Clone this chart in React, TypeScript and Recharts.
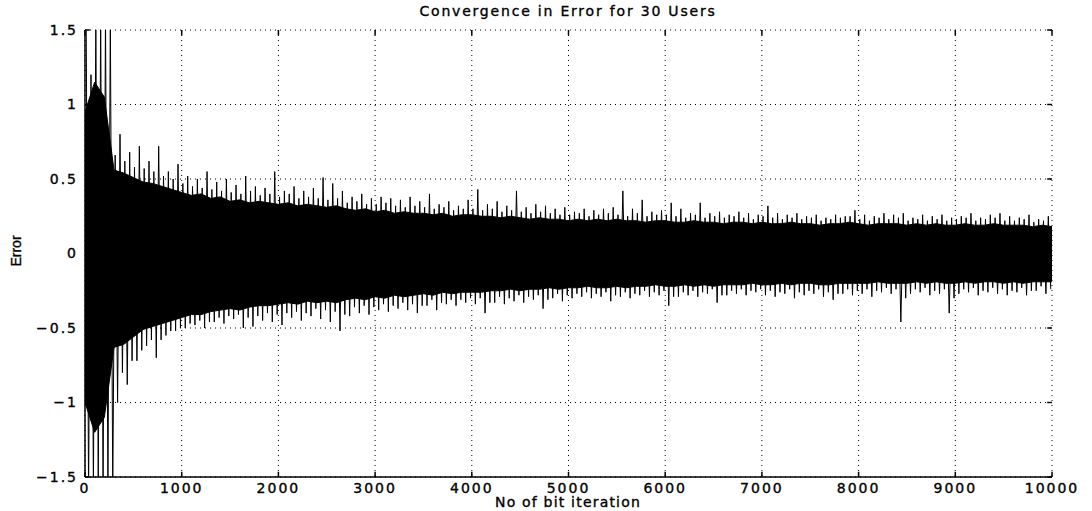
import React from 'react';
import { ComposedChart, Area, Line, XAxis, YAxis, CartesianGrid, ReferenceLine } from 'recharts';

// bin start (bit iteration), one every 100
const iterations = [
  0, 100, 200, 300, 400, 500, 600, 700, 800, 900,
  1000, 1100, 1200, 1300, 1400, 1500, 1600, 1700, 1800, 1900,
  2000, 2100, 2200, 2300, 2400, 2500, 2600, 2700, 2800, 2900,
  3000, 3100, 3200, 3300, 3400, 3500, 3600, 3700, 3800, 3900,
  4000, 4100, 4200, 4300, 4400, 4500, 4600, 4700, 4800, 4900,
  5000, 5100, 5200, 5300, 5400, 5500, 5600, 5700, 5800, 5900,
  6000, 6100, 6200, 6300, 6400, 6500, 6600, 6700, 6800, 6900,
  7000, 7100, 7200, 7300, 7400, 7500, 7600, 7700, 7800, 7900,
  8000, 8100, 8200, 8300, 8400, 8500, 8600, 8700, 8800, 8900,
  9000, 9100, 9200, 9300, 9400, 9500, 9600, 9700, 9800, 9900,
  10000,
];

// solid part of the error trace (upper / lower edge)
const coreTop = [
  0.95, 1.15, 1.05, 0.56, 0.54, 0.51, 0.48, 0.47, 0.45, 0.43,
  0.41, 0.39, 0.4, 0.37, 0.38, 0.35, 0.36, 0.34, 0.35, 0.34,
  0.33, 0.34, 0.32, 0.33, 0.32, 0.31, 0.32, 0.3, 0.29, 0.3,
  0.28, 0.29, 0.27, 0.28, 0.27, 0.27, 0.26, 0.27, 0.25, 0.26,
  0.26, 0.25, 0.25, 0.24, 0.25, 0.24, 0.23, 0.24, 0.23, 0.23,
  0.22, 0.23, 0.22, 0.23, 0.22, 0.23, 0.22, 0.22, 0.21, 0.22,
  0.22, 0.21, 0.21, 0.22, 0.21, 0.21, 0.2, 0.21, 0.21, 0.2,
  0.21, 0.2, 0.2, 0.21, 0.2, 0.2, 0.19, 0.2, 0.2, 0.21,
  0.2, 0.19, 0.2, 0.2, 0.2, 0.19, 0.2, 0.19, 0.2, 0.19,
  0.19, 0.2, 0.19, 0.19, 0.2, 0.19, 0.19, 0.19, 0.18, 0.19,
  0.18,
];
const coreBottom = [
  -1.0, -1.2, -1.1, -0.63, -0.61, -0.56, -0.51, -0.49, -0.47, -0.45,
  -0.43, -0.41, -0.41, -0.39, -0.38, -0.37, -0.38, -0.36, -0.35, -0.35,
  -0.34, -0.33, -0.34, -0.32, -0.33, -0.32, -0.33, -0.31, -0.3, -0.31,
  -0.29, -0.3, -0.28, -0.29, -0.28, -0.27, -0.28, -0.26, -0.27, -0.26,
  -0.26, -0.26, -0.25, -0.25, -0.24, -0.25, -0.24, -0.24, -0.23, -0.24,
  -0.23, -0.23, -0.22, -0.23, -0.23, -0.22, -0.23, -0.22, -0.22, -0.21,
  -0.22, -0.22, -0.21, -0.22, -0.21, -0.22, -0.21, -0.21, -0.21, -0.2,
  -0.21, -0.21, -0.2, -0.21, -0.2, -0.2, -0.21, -0.21, -0.2, -0.2,
  -0.2, -0.2, -0.19, -0.2, -0.2, -0.2, -0.19, -0.2, -0.19, -0.2,
  -0.2, -0.19, -0.2, -0.19, -0.19, -0.2, -0.19, -0.2, -0.19, -0.19,
  -0.19,
];

// highest / lowest spike inside each 100-iteration bin
const peakTop = [
  1.2, 1.6, 1.6, 0.8, 0.68, 0.72, 0.62, 0.72, 0.55, 0.6,
  0.52, 0.5, 0.55, 0.48, 0.5, 0.46, 0.52, 0.45, 0.44, 0.55,
  0.42, 0.45, 0.42, 0.44, 0.51, 0.47, 0.42, 0.38, 0.4, 0.37,
  0.38, 0.37, 0.36, 0.38, 0.35, 0.4, 0.33, 0.35, 0.32, 0.36,
  0.43, 0.33, 0.35, 0.32, 0.42, 0.31, 0.33, 0.32, 0.3, 0.31,
  0.28, 0.3, 0.29, 0.3, 0.31, 0.42, 0.3, 0.36, 0.28, 0.29,
  0.34, 0.3, 0.27, 0.34, 0.27, 0.28, 0.26, 0.28, 0.27, 0.26,
  0.32, 0.27, 0.26, 0.27, 0.25, 0.26, 0.24, 0.26, 0.25, 0.29,
  0.26, 0.25, 0.27, 0.26, 0.27, 0.24, 0.26, 0.25, 0.26, 0.24,
  0.25, 0.27, 0.24, 0.26, 0.27, 0.25, 0.24, 0.26, 0.23, 0.25,
];
const peakBottom = [
  -1.6, -1.6, -1.6, -1.0, -0.88, -0.72, -0.62, -0.7, -0.55, -0.52,
  -0.5, -0.48, -0.5, -0.46, -0.47, -0.44, -0.5, -0.49, -0.45, -0.46,
  -0.48, -0.43, -0.45, -0.42, -0.44, -0.46, -0.52, -0.42, -0.4, -0.41,
  -0.38, -0.39, -0.37, -0.38, -0.4, -0.35, -0.38, -0.34, -0.35, -0.33,
  -0.34, -0.4, -0.33, -0.34, -0.32, -0.33, -0.31, -0.37, -0.3, -0.32,
  -0.3, -0.29, -0.3, -0.29, -0.32, -0.29, -0.3, -0.28, -0.29, -0.28,
  -0.35, -0.29, -0.28, -0.29, -0.27, -0.33, -0.28, -0.27, -0.28, -0.26,
  -0.28, -0.29, -0.27, -0.3, -0.28, -0.27, -0.29, -0.31, -0.27, -0.28,
  -0.27, -0.29, -0.26, -0.27, -0.46, -0.27, -0.26, -0.28, -0.27, -0.4,
  -0.27, -0.26, -0.28, -0.26, -0.27, -0.28, -0.26, -0.28, -0.25, -0.27,
];

// second-tallest spike inside each bin
const subTop = [
  1.6, 1.6, 1.6, 0.66, 0.62, 0.58, 0.57, 0.55, 0.52, 0.5,
  0.47, 0.45, 0.44, 0.43, 0.42, 0.41, 0.4, 0.42, 0.39, 0.4,
  0.38, 0.4, 0.37, 0.38, 0.37, 0.36, 0.37, 0.34, 0.35, 0.33,
  0.33, 0.34, 0.32, 0.31, 0.32, 0.31, 0.3, 0.31, 0.29, 0.3,
  0.3, 0.29, 0.3, 0.28, 0.29, 0.28, 0.27, 0.28, 0.27, 0.26,
  0.26, 0.27, 0.25, 0.26, 0.27, 0.26, 0.25, 0.27, 0.25, 0.26,
  0.26, 0.25, 0.24, 0.26, 0.24, 0.25, 0.24, 0.25, 0.24, 0.23,
  0.25, 0.24, 0.23, 0.24, 0.23, 0.24, 0.22, 0.23, 0.24, 0.25,
  0.23, 0.22, 0.24, 0.23, 0.24, 0.22, 0.23, 0.22, 0.23, 0.22,
  0.23, 0.24, 0.22, 0.23, 0.24, 0.22, 0.22, 0.23, 0.21, 0.22,
];
const subBottom = [
  -1.6, -1.6, -1.6, -0.8, -0.72, -0.65, -0.58, -0.58, -0.52, -0.5,
  -0.47, -0.45, -0.46, -0.43, -0.42, -0.41, -0.43, -0.42, -0.4, -0.41,
  -0.4, -0.39, -0.4, -0.37, -0.38, -0.39, -0.41, -0.36, -0.35, -0.36,
  -0.34, -0.35, -0.33, -0.34, -0.35, -0.31, -0.33, -0.31, -0.31, -0.3,
  -0.3, -0.33, -0.29, -0.3, -0.28, -0.29, -0.28, -0.31, -0.27, -0.28,
  -0.27, -0.26, -0.27, -0.26, -0.28, -0.26, -0.27, -0.25, -0.26, -0.25,
  -0.29, -0.26, -0.25, -0.26, -0.24, -0.28, -0.25, -0.24, -0.25, -0.24,
  -0.25, -0.26, -0.24, -0.26, -0.25, -0.24, -0.26, -0.27, -0.24, -0.25,
  -0.24, -0.25, -0.23, -0.24, -0.3, -0.24, -0.23, -0.25, -0.24, -0.3,
  -0.24, -0.23, -0.25, -0.23, -0.24, -0.25, -0.23, -0.25, -0.22, -0.24,
];

const xTicks = [0, 1000, 2000, 3000, 4000, 5000, 6000, 7000, 8000, 9000, 10000];
const yTicks = [-1.5, -1, -0.5, 0, 0.5, 1, 1.5];

const bandData = iterations.map((it, i) => ({ it, band: [coreBottom[i], coreTop[i]] }));
const spikeData = peakTop.flatMap((v, i) => [
  { it: iterations[i] + 12, err: subTop[i] },
  { it: iterations[i] + 37, err: peakBottom[i] },
  { it: iterations[i] + 62, err: v },
  { it: iterations[i] + 87, err: subBottom[i] },
]);

const font = '"DejaVu Sans", sans-serif';
const tickStyle = { fontFamily: font, fontSize: 14, fill: '#000', stroke: '#000', strokeWidth: 0.35, letterSpacing: 2 };
const fmtY = (v: number) => (v < 0 ? '\u2212' + String(-v) : String(v));
const textBase = { position: 'absolute' as const, color: '#000', WebkitTextStroke: '0.35px #000' };

export default function App() {
  return (
    <div style={{ position: 'absolute', left: 0, top: 0, width: 1092, height: 511, background: '#fff' }}>
      <div style={{ ...textBase, left: 368, width: 400, top: 3, textAlign: 'center', fontFamily: font, fontSize: 14, letterSpacing: 1.8 }}>
        Convergence in Error for 30 Users
      </div>
      <div style={{ ...textBase, left: 368, width: 400, top: 494, textAlign: 'center', fontFamily: font, fontSize: 14, letterSpacing: 1.2 }}>
        No of bit iteration
      </div>
      <div style={{ ...textBase, left: -14, top: 243, width: 60, textAlign: 'center', transform: 'rotate(-90deg)', fontFamily: '"Liberation Sans", sans-serif', fontSize: 14 }}>
        Error
      </div>
      <ComposedChart width={1092} height={511} data={bandData} margin={{ top: 30, right: 40, bottom: 0, left: 35 }}>
        <CartesianGrid stroke="#000" strokeDasharray="1 4" />
        <XAxis dataKey="it" type="number" domain={[0, 10000]} ticks={xTicks} allowDataOverflow
          height={34} tickSize={0} tickMargin={6} tickLine={false} axisLine={{ stroke: '#000', strokeWidth: 1.5 }} tick={tickStyle} interval={0} />
        <XAxis xAxisId="top" orientation="top" dataKey="it" type="number" domain={[0, 10000]} height={0}
          tick={false} tickLine={false} axisLine={{ stroke: '#000', strokeWidth: 1.5 }} />
        <YAxis type="number" domain={[-1.5, 1.5]} ticks={yTicks} allowDataOverflow width={50}
          tickSize={0} tickMargin={7} tickLine={false} axisLine={{ stroke: '#000', strokeWidth: 1.5 }} tick={tickStyle} tickFormatter={fmtY} interval={0} />
        <YAxis yAxisId="right" orientation="right" type="number" domain={[-1.5, 1.5]} width={0}
          tick={false} tickLine={false} axisLine={{ stroke: '#000', strokeWidth: 1.5 }} />
        {xTicks.map((t) => (
          <ReferenceLine key={'xb' + t} segment={[{ x: t, y: -1.5 }, { x: t, y: -1.465 }]} stroke="#000" strokeWidth={1.5} />
        ))}
        {xTicks.map((t) => (
          <ReferenceLine key={'xt' + t} segment={[{ x: t, y: 1.5 }, { x: t, y: 1.465 }]} stroke="#000" strokeWidth={1.5} />
        ))}
        {yTicks.map((t) => (
          <ReferenceLine key={'yl' + t} segment={[{ x: 0, y: t }, { x: 50, y: t }]} stroke="#000" strokeWidth={1.5} />
        ))}
        {yTicks.map((t) => (
          <ReferenceLine key={'yr' + t} segment={[{ x: 9950, y: t }, { x: 10000, y: t }]} stroke="#000" strokeWidth={1.5} />
        ))}
        <Area dataKey="band" type="linear" fill="#000" fillOpacity={1} stroke="#000" strokeWidth={1} isAnimationActive={false} dot={false} activeDot={false} />
        <Line data={spikeData} dataKey="err" type="linear" stroke="#000" strokeWidth={1} dot={false} activeDot={false} isAnimationActive={false} />
      </ComposedChart>
    </div>
  );
}
